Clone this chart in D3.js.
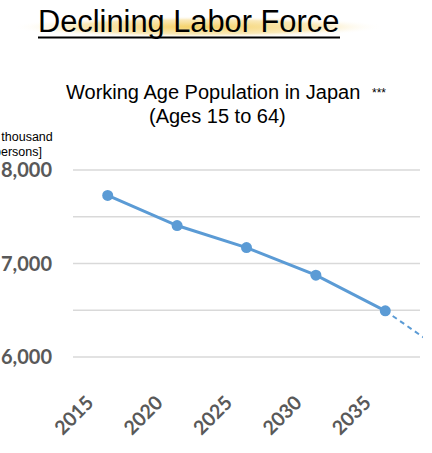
<!DOCTYPE html>
<html>
<head>
<meta charset="utf-8">
<script src="https://cdn.jsdelivr.net/npm/d3@7"></script>
<style>
  body { margin: 0; background: #fff; }
  svg { display: block; }
</style>
</head>
<body>
<div id="chart"></div>
<script>
// Data (units: ten thousand persons)
let years = [2015, 2020, 2025, 2030, 2035];
let population = [7728, 7406, 7170, 6875, 6494];
let projectionYears = [2035, 2040];
let projectionValues = [6494, 5978];
let gridValues = [8000, 7500, 7000, 6500, 6000];
let tickValues = [8000, 7000, 6000];

let svgWidth = 432;
let svgHeight = 453;

let svg = d3.select("#chart")
  .append("svg")
  .attr("width", svgWidth)
  .attr("height", svgHeight);

// scales
let xScale = d3.scaleLinear()
  .domain([2012.5, 2037.5])
  .range([73, 420]);

let yScale = d3.scaleLinear()
  .domain([6000, 8000])
  .range([357, 170]);

// title glow
let defs = svg.append("defs");
let glow = defs.append("radialGradient").attr("id", "glow");
glow.append("stop").attr("offset", "0%").attr("stop-color", "#f4cf5e").attr("stop-opacity", 0.95);
glow.append("stop").attr("offset", "65%").attr("stop-color", "#f7dd92").attr("stop-opacity", 0.65);
glow.append("stop").attr("offset", "100%").attr("stop-color", "#ffffff").attr("stop-opacity", 0);

svg.append("ellipse")
  .attr("cx", 198).attr("cy", 27)
  .attr("rx", 186).attr("ry", 11)
  .attr("fill", "url(#glow)");

svg.append("text")
  .attr("x", 38).attr("y", 32)
  .attr("font-family", "Liberation Sans, Arial, sans-serif")
  .attr("font-size", 30.8)
  .attr("fill", "#000")
  .text("Declining Labor Force");

svg.append("line")
  .attr("x1", 38).attr("x2", 340)
  .attr("y1", 37.5).attr("y2", 37.5)
  .attr("stroke", "#000").attr("stroke-width", 2);

// chart title
let sub = svg.append("g")
  .attr("font-family", "Liberation Sans, Arial, sans-serif")
  .attr("fill", "#000");
sub.append("text")
  .attr("x", 66).attr("y", 99)
  .attr("font-size", 20)
  .text("Working Age Population in Japan");
sub.append("text")
  .attr("x", 372).attr("y", 97)
  .attr("font-size", 12)
  .text("***");
sub.append("text")
  .attr("x", 149).attr("y", 123)
  .attr("font-size", 20)
  .text("(Ages 15 to 64)");

// unit label (cut off at the left edge, as in the source)
let unit = svg.append("text")
  .attr("font-family", "Liberation Sans, Arial, sans-serif")
  .attr("font-size", 12.5)
  .attr("fill", "#000");
unit.append("tspan").attr("x", -23).attr("y", 141).text("[ten thousand");
unit.append("tspan").attr("x", -6).attr("y", 156).text("persons]");

// gridlines
svg.append("g")
  .selectAll("line")
  .data(gridValues)
  .enter()
  .append("line")
  .attr("x1", xScale.range()[0])
  .attr("x2", xScale.range()[1])
  .attr("y1", d => yScale(d))
  .attr("y2", d => yScale(d))
  .attr("stroke", "#d9d9d9")
  .attr("stroke-width", 1.5);

// y tick labels
svg.append("g")
  .selectAll("text")
  .data(tickValues)
  .enter()
  .append("text")
  .attr("x", 52)
  .attr("y", d => yScale(d))
  .attr("dy", "0.36em")
  .attr("text-anchor", "end")
  .attr("font-family", "Lato, Open Sans, sans-serif")
  .attr("font-weight", "bold")
  .attr("font-size", 20)
  .attr("fill", "#595959")
  .text(d => d3.format(",")(d));

// x tick labels (rotated)
svg.append("g")
  .selectAll("text")
  .data(years)
  .enter()
  .append("text")
  .attr("transform", d => `translate(${xScale(d) - 13},404) rotate(-45)`)
  .attr("text-anchor", "end")
  .attr("font-family", "Lato, Open Sans, sans-serif")
  .attr("font-weight", "bold")
  .attr("font-size", 19.5)
  .attr("fill", "#595959")
  .text(d => d);

// projection (dashed), clipped at the plot edge
defs.append("clipPath").attr("id", "plotClip")
  .append("rect")
  .attr("x", 0).attr("y", 0)
  .attr("width", 423).attr("height", svgHeight);

let line = d3.line()
  .x(d => xScale(d[0]))
  .y(d => yScale(d[1]));

svg.append("path")
  .datum(d3.zip(projectionYears, projectionValues))
  .attr("clip-path", "url(#plotClip)")
  .attr("d", line)
  .attr("fill", "none")
  .attr("stroke", "#5b9bd5")
  .attr("stroke-width", 2)
  .attr("stroke-dasharray", "5,4");

// main series
svg.append("path")
  .datum(d3.zip(years, population))
  .attr("d", line)
  .attr("fill", "none")
  .attr("stroke", "#5b9bd5")
  .attr("stroke-width", 3);

svg.append("g")
  .selectAll("circle")
  .data(d3.zip(years, population))
  .enter()
  .append("circle")
  .attr("cx", d => xScale(d[0]))
  .attr("cy", d => yScale(d[1]))
  .attr("r", 5.5)
  .attr("fill", "#5b9bd5");
</script>
</body>
</html>
